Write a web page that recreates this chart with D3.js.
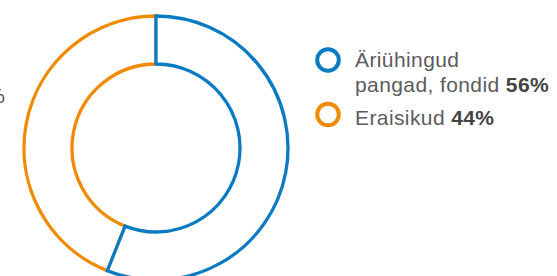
<!DOCTYPE html>
<html lang="et">
<head>
<meta charset="UTF-8">
<title>Aktsionärid</title>
<script src="https://cdn.jsdelivr.net/npm/d3@7"></script>
<style>
  body { margin: 0; background: #fff; }
  svg text { font-family: "Liberation Sans", Arial, sans-serif; }
</style>
</head>
<body>
<svg width="557" height="276"></svg>
<script>
// shareholder groups
var labels = ["Äriühingud\npangad, fondid", "Eraisikud"];
var shares = [56, 44];
var colors = ["#0a7bc2", "#f08a00"];

var svg = d3.select("svg");

var cx = 156, cy = 148,
    rOuter = 132, rInner = 84;

var pie = d3.pie().sort(null).value(function(d) { return d; });
var arc = d3.arc().innerRadius(rInner).outerRadius(rOuter);

var g = svg.append("g").attr("transform", "translate(" + cx + "," + cy + ")");

// draw in reverse so the blue edges sit on top at the joins
var slices = pie(shares).map(function(d, i) { d.idx = i; return d; }).reverse();

g.selectAll("path")
    .data(slices)
    .enter()
    .append("path")
    .attr("d", arc)
    .attr("fill", "#fff")
    .attr("stroke", function(d) { return colors[d.idx]; })
    .attr("stroke-width", 3.3)
    .attr("stroke-linejoin", "miter");

// cut-off label from the neighbouring chart on the left
svg.append("text")
    .attr("x", 5)
    .attr("y", 103)
    .attr("text-anchor", "end")
    .attr("fill", "#555")
    .style("font-size", "21px")
    .text("%");

// legend
var legend = svg.append("g").attr("transform", "translate(328,0)");
var rowY = [60, 114.5];

legend.selectAll("circle")
    .data(shares)
    .enter()
    .append("circle")
    .attr("cx", 0)
    .attr("cy", function(d, i) { return rowY[i]; })
    .attr("r", 10.8)
    .attr("fill", "none")
    .attr("stroke", function(d, i) { return colors[i]; })
    .attr("stroke-width", 4);

var items = legend.selectAll("text.item")
    .data(shares)
    .enter()
    .append("text")
    .attr("class", "item")
    .attr("fill", "#5c5c5c")
    .style("font-size", "21px")
    .style("letter-spacing", "0.4px");

items.each(function(d, i) {
    var t = d3.select(this);
    var lines = labels[i].split("\n");
    var base = i === 0 ? 67 : 125;
    lines.forEach(function(line, j) {
        t.append("tspan")
            .attr("x", 27)
            .attr("y", base + j * 25)
            .text(line);
        if (j === lines.length - 1) {
            t.append("tspan")
                .attr("font-weight", "bold")
                .attr("fill", "#444")
                .text(" " + d + "%");
        }
    });
});
</script>
</body>
</html>
